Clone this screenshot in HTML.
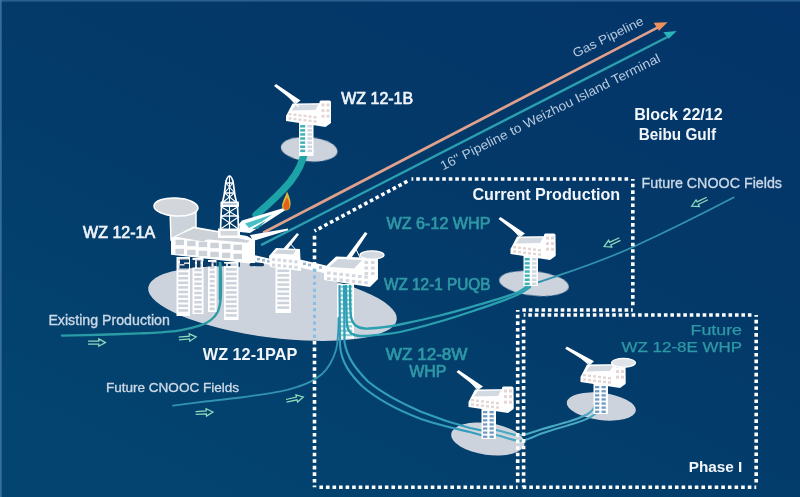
<!DOCTYPE html>
<html>
<head>
<meta charset="utf-8">
<title>WZ 12-1 Field Development</title>
<style>
html,body{margin:0;padding:0;background:#033a69;overflow:hidden;}
svg{display:block;}
text{font-family:"Liberation Sans",sans-serif;}
.w{fill:#eef3f8;}
.wb{fill:#f2f6fa;font-weight:bold;}
.t{fill:#2f98a6;}
.l{fill:#cbd8e6;}
</style>
</head>
<body>
<svg width="800" height="497" viewBox="0 0 800 497">
<defs>
  <linearGradient id="bg" x1="1" y1="0" x2="0.25" y2="1">
    <stop offset="0" stop-color="#043469"/>
    <stop offset="0.5" stop-color="#033a69"/>
    <stop offset="1" stop-color="#034470"/>
  </linearGradient>
  <filter id="soft2" x="-5%" y="-20%" width="110%" height="140%"><feGaussianBlur stdDeviation="0.55"/></filter>
  <filter id="soft" x="-5%" y="-5%" width="110%" height="110%"><feGaussianBlur stdDeviation="0.75"/></filter>
  <path id="arw" d="M-8.7,-1.4 H2 V-3.7 L8.7,0 L2,3.7 V1.4 H-8.7" fill="none" stroke="#8fdcbc" stroke-width="1.25" stroke-linejoin="miter"/>
  <!-- small wellhead platform, origin = top centre of legs (deck bottom) -->
  <g id="whpbody">
    <polygon points="-20.5,-7 -14,-19.5 24,-20 24.5,0 19,4 -20.5,-2" fill="#fff"/>
    <polygon points="-11,-18 12,-18.5 9,-13 -15,-12.5" fill="#d3d9e0"/>
    <rect x="13" y="-22.5" width="11.5" height="22.5" rx="1.5" fill="#fff"/>
    <g fill="#e3d6d3"><rect x="-18" y="-10" width="3" height="2.4"/><rect x="-13" y="-9.4" width="3" height="2.4"/><rect x="-8" y="-8.8" width="3" height="2.4"/><rect x="-3" y="-8.2" width="3" height="2.4"/><rect x="2" y="-7.6" width="3" height="2.4"/><rect x="7" y="-7" width="3" height="2.4"/><rect x="-18" y="-5.7" width="3" height="2.4"/><rect x="-13" y="-5.1" width="3" height="2.4"/><rect x="-8" y="-4.5" width="3" height="2.4"/><rect x="-3" y="-3.9" width="3" height="2.4"/><rect x="2" y="-3.3" width="3" height="2.4"/><rect x="7" y="-2.7" width="3" height="2.4"/><rect x="15" y="-19.5" width="3" height="3"/><rect x="20" y="-19.5" width="3" height="3"/><rect x="15" y="-13.9" width="3" height="3"/><rect x="20" y="-13.9" width="3" height="3"/><rect x="15" y="-8.3" width="3" height="3"/><rect x="20" y="-8.3" width="3" height="3"/></g>
  </g>
  <g id="crane"><polygon points="-32.5,-37 -30.5,-39 -6,-22.5 -10,-19.5" fill="#fff"/><line x1="-21" y1="-30" x2="-8" y2="-16" stroke="#fff" stroke-width="1.2"/></g>
  <g id="crane2"><polygon points="-35.8,-35.2 -34.2,-37.4 -7,-22.8 -10.5,-19.5" fill="#fff"/><line x1="-23" y1="-29" x2="-8" y2="-16" stroke="#fff" stroke-width="1.2"/></g>
  <g id="whpT"><use href="#whpbody"/><rect x="-7.5" y="-1" width="14.5" height="31" fill="#fff"/><g fill="#3fb3b6"><rect x="-6.3" y="2" width="5" height="2.5"/><rect x="-6.3" y="6.1" width="5" height="2.5"/><rect x="-6.3" y="10.2" width="5" height="2.5"/><rect x="-6.3" y="14.3" width="5" height="2.5"/><rect x="-6.3" y="18.4" width="5" height="2.5"/><rect x="-6.3" y="22.5" width="5" height="2.5"/><rect x="-6.3" y="26.6" width="5" height="2.5"/></g><g fill="#cfd8e2"><rect x="1" y="2" width="4.5" height="2.5"/><rect x="1" y="6.1" width="4.5" height="2.5"/><rect x="1" y="10.2" width="4.5" height="2.5"/><rect x="1" y="14.3" width="4.5" height="2.5"/><rect x="1" y="18.4" width="4.5" height="2.5"/><rect x="1" y="22.5" width="4.5" height="2.5"/><rect x="1" y="26.6" width="4.5" height="2.5"/></g></g>
  <g id="whpW"><use href="#whpbody"/><rect x="-7.5" y="-1" width="14.5" height="31" fill="#fff"/><g fill="#6f9cc4"><rect x="-6" y="2" width="4.3" height="2.3"/><rect x="0.5" y="2" width="4.3" height="2.3"/><rect x="-6" y="6.1" width="4.3" height="2.3"/><rect x="0.5" y="6.1" width="4.3" height="2.3"/><rect x="-6" y="10.2" width="4.3" height="2.3"/><rect x="0.5" y="10.2" width="4.3" height="2.3"/><rect x="-6" y="14.3" width="4.3" height="2.3"/><rect x="0.5" y="14.3" width="4.3" height="2.3"/><rect x="-6" y="18.4" width="4.3" height="2.3"/><rect x="0.5" y="18.4" width="4.3" height="2.3"/><rect x="-6" y="22.5" width="4.3" height="2.3"/><rect x="0.5" y="22.5" width="4.3" height="2.3"/><rect x="-6" y="26.6" width="4.3" height="2.3"/><rect x="0.5" y="26.6" width="4.3" height="2.3"/></g></g>
</defs>

<rect width="800" height="497" fill="url(#bg)"/>
<rect x="0" y="0" width="800" height="1.6" fill="#2f6694" opacity="0.85"/>
<rect x="0" y="0" width="1.7" height="497" fill="#4276a3" opacity="0.85"/>

<g filter="url(#soft)">
<!-- seabed ellipses -->
<g fill="#cdd3dc">
  <ellipse cx="272.5" cy="303.6" rx="125.3" ry="33.9" transform="rotate(7.4 272.5 303.6)"/>
  <polygon points="240,262 300,264 330,270 340,290 240,285"/>
  <ellipse cx="309.2" cy="149.3" rx="28.4" ry="12" transform="rotate(5 309.2 149.3)"/>
  <ellipse cx="534" cy="283.4" rx="35" ry="12.2" transform="rotate(6 534 283.4)"/>
  <ellipse cx="487.8" cy="439" rx="37" ry="15.9" transform="rotate(8 487.8 439)"/>
  <ellipse cx="601.3" cy="406.5" rx="34.8" ry="13.6" transform="rotate(7 601.3 406.5)"/>
</g>

<!-- PUQB legs (under the pipelines) -->
<g opacity="1"><rect x="337" y="284" width="17" height="54.5" fill="#fff"/><g fill="#8fcfd0"><rect x="338.8" y="285.5" width="13.4" height="2.4"/><rect x="338.8" y="289.9" width="13.4" height="2.4"/><rect x="338.8" y="294.3" width="13.4" height="2.4"/><rect x="338.8" y="298.7" width="13.4" height="2.4"/><rect x="338.8" y="303.1" width="13.4" height="2.4"/><rect x="338.8" y="307.5" width="13.4" height="2.4"/><rect x="338.8" y="311.9" width="13.4" height="2.4"/><rect x="338.8" y="316.3" width="13.4" height="2.4"/><rect x="338.8" y="320.7" width="13.4" height="2.4"/><rect x="338.8" y="325.1" width="13.4" height="2.4"/><rect x="338.8" y="329.5" width="13.4" height="2.4"/><rect x="338.8" y="333.9" width="13.4" height="2.4"/></g></g>
<!-- pipelines -->
<g fill="none" stroke-linecap="round">
  <line x1="264" y1="232.3" x2="657" y2="27.9" stroke="#dfa08c" stroke-width="2.7"/>
  <line x1="262" y1="244.6" x2="666.5" y2="37.5" stroke="#2a9fb0" stroke-width="2.4"/>
  <polygon points="667.6,22.3 653.6,22.8 659,30.8" fill="#f0905a" stroke="none"/>
  <polygon points="676.8,31 663.3,32.2 668.6,38.8" fill="#2ab5b8" stroke="none"/>
  <path d="M305,150 C303,162 298,172 290,182 C280,194 270,203 256,215" stroke="#1fa3a8" stroke-width="7.2"/>
  <path d="M62,335.6 C68.33,335.47 87,335.17 100,334.8 C113,334.43 130,333.8 140,333.4 C150,333 153.33,332.9 160,332.4 C166.67,331.9 173.27,331.57 180,330.4 C186.73,329.23 195.33,327.07 200.4,325.4 C205.47,323.73 207.55,322.58 210.4,320.4 C213.25,318.22 215.82,315.67 217.5,312.3 C219.18,308.93 219.92,305.58 220.5,300.2 C221.08,294.82 221,286.03 221,280 C221,273.97 220.58,266.67 220.5,264" stroke="#2a9ca6" stroke-width="2.4"/>
  <path d="M173,405.6 C178.33,404.92 193.75,402.85 205,401.5 C216.25,400.15 227.88,399.18 240.5,397.5 C253.12,395.82 270.78,393.32 280.7,391.4 C290.62,389.48 294.95,387.67 300,386 C305.05,384.33 307.33,383.4 311,381.4 C314.67,379.4 318.83,376.9 322,374 C325.17,371.1 327.67,368 330,364 C332.33,360 334.67,354.83 336,350 C337.33,345.17 337.58,340.33 338,335 C338.42,329.67 338.42,320.83 338.5,318" stroke="#3092b0" stroke-width="1.9"/>
  <path d="M339.5,286 L340,345 C341,362 350,374 362,386 C378,400 400,411 421,419 C440,425.5 455,428.5 470,432 L486,436.5" stroke="#329dbc" stroke-width="2.2"/>
  <path d="M344,286 L344.5,342 C347,358 356,369 368,381.5 C382,393 402,403.5 421,411.7 C438,418.5 453,423.5 470,428 L487,431.5" stroke="#329dbc" stroke-width="2.2"/>
  <path d="M350,286 C350.07,289.72 350.17,302.9 350.4,308.3 C350.63,313.7 350.55,315.53 351.4,318.4 C352.25,321.27 353.32,323.82 355.5,325.5 C357.68,327.18 360.32,328.17 364.5,328.5 C368.68,328.83 374.68,328.17 380.6,327.5 C386.52,326.83 390.1,326.5 400,324.5 C409.9,322.5 427.42,318.63 440,315.5 C452.58,312.37 464.55,308.85 475.5,305.7 C486.45,302.55 498.28,299 505.7,296.6 C513.12,294.2 516.12,293.32 520,291.3 C523.88,289.28 527.5,285.63 529,284.5" stroke="#2b9fb0" stroke-width="2.3"/>
  <path d="M346,286 C346.07,290.07 346.17,303.65 346.4,310.4 C346.63,317.15 346.57,322.65 347.4,326.5 C348.23,330.35 349.22,331.92 351.4,333.5 C353.58,335.08 355.63,335.83 360.5,336 C365.37,336.17 374.02,335.17 380.6,334.5 C387.18,333.83 390.1,334.17 400,332 C409.9,329.83 427.42,325.13 440,321.5 C452.58,317.87 464.55,313.85 475.5,310.2 C486.45,306.55 498.28,302.37 505.7,299.6 C513.12,296.83 515.95,295.7 520,293.6 C524.05,291.5 528.33,288.1 530,287" stroke="#2b9fb0" stroke-width="2.3"/>
  <path d="M533,284 C570,272 600,262 633,247 C670,230 700,215 733.5,197.5" stroke="#3092b0" stroke-width="1.9"/>
  <path d="M488,431 L496,430 C508,432 512,436 521,435 C530,434 536,431 540,429.8 C550,427 558,424.5 567.5,422 C576,419.5 582,417 587,414.5 C592,411.5 595,409 595.5,400" stroke="#48a8c2" stroke-width="2.1"/>
  <path d="M488,436 L496,435 C508,437.5 512,441.5 521,440.8 C530,439.5 536,435.5 540,434 C550,430.5 558,428 567.5,425.6 C576,423 584,420.5 590,417.4 C596,414 599.5,411 600.5,400" stroke="#48a8c2" stroke-width="2.1"/>
</g>
<!-- flow arrows -->
<g>
  <use href="#arw" transform="translate(96.8,342.6)"/>
  <use href="#arw" transform="translate(187.5,337.7) rotate(-5)"/>
  <use href="#arw" transform="translate(204.3,412.5) rotate(-3)"/>
  <use href="#arw" transform="translate(294.8,398.9) rotate(-13)"/>
  <use href="#arw" transform="translate(699.5,202.3) rotate(153.7)"/>
  <use href="#arw" transform="translate(612,242.8) rotate(154.5)"/>
</g>

<!-- platforms -->
<g id="platforms">
  <rect x="299" y="150" width="14.5" height="6" fill="#fff"/><use href="#whpT" x="306.5" y="123"/>
  <use href="#crane" x="306.5" y="123"/><use href="#crane" x="531" y="256"/><use href="#crane" x="489" y="409"/><use href="#crane2" x="601" y="384"/>
  <use href="#whpT" x="531" y="256"/>
  <use href="#whpW" x="489" y="409"/>
  <g>
    <use href="#whpW" x="601" y="384"/>
    <ellipse cx="623.5" cy="362.8" rx="12" ry="4.4" fill="#dfe4ea" stroke="#fff" stroke-width="1.2"/>
  </g>

  <!-- WZ 12-1A complex : legs -->
  <g opacity="1"><rect x="176.5" y="257" width="13.5" height="59" fill="#fff"/><g fill="#cdd3dc"><rect x="178.3" y="258.5" width="9.9" height="2.6"/><rect x="178.3" y="263.1" width="9.9" height="2.6"/><rect x="178.3" y="267.7" width="9.9" height="2.6"/><rect x="178.3" y="272.3" width="9.9" height="2.6"/><rect x="178.3" y="276.9" width="9.9" height="2.6"/><rect x="178.3" y="281.5" width="9.9" height="2.6"/><rect x="178.3" y="286.1" width="9.9" height="2.6"/><rect x="178.3" y="290.7" width="9.9" height="2.6"/><rect x="178.3" y="295.3" width="9.9" height="2.6"/><rect x="178.3" y="299.9" width="9.9" height="2.6"/><rect x="178.3" y="304.5" width="9.9" height="2.6"/><rect x="178.3" y="309.1" width="9.9" height="2.6"/></g></g><g opacity="1"><rect x="192.5" y="258" width="11" height="56" fill="#fff"/><g fill="#cdd3dc"><rect x="194.3" y="259.5" width="7.4" height="2.6"/><rect x="194.3" y="264.1" width="7.4" height="2.6"/><rect x="194.3" y="268.7" width="7.4" height="2.6"/><rect x="194.3" y="273.3" width="7.4" height="2.6"/><rect x="194.3" y="277.9" width="7.4" height="2.6"/><rect x="194.3" y="282.5" width="7.4" height="2.6"/><rect x="194.3" y="287.1" width="7.4" height="2.6"/><rect x="194.3" y="291.7" width="7.4" height="2.6"/><rect x="194.3" y="296.3" width="7.4" height="2.6"/><rect x="194.3" y="300.9" width="7.4" height="2.6"/><rect x="194.3" y="305.5" width="7.4" height="2.6"/><rect x="194.3" y="310.1" width="7.4" height="2.6"/></g></g><g opacity="1"><rect x="208" y="260" width="8.5" height="52" fill="#fff"/><g fill="#cdd3dc"><rect x="209.8" y="261.5" width="4.9" height="2.6"/><rect x="209.8" y="266.1" width="4.9" height="2.6"/><rect x="209.8" y="270.7" width="4.9" height="2.6"/><rect x="209.8" y="275.3" width="4.9" height="2.6"/><rect x="209.8" y="279.9" width="4.9" height="2.6"/><rect x="209.8" y="284.5" width="4.9" height="2.6"/><rect x="209.8" y="289.1" width="4.9" height="2.6"/><rect x="209.8" y="293.7" width="4.9" height="2.6"/><rect x="209.8" y="298.3" width="4.9" height="2.6"/><rect x="209.8" y="302.9" width="4.9" height="2.6"/><rect x="209.8" y="307.5" width="4.9" height="2.6"/></g></g><g opacity="1"><rect x="224" y="262" width="14.5" height="58" fill="#fff"/><g fill="#cdd3dc"><rect x="225.8" y="263.5" width="10.9" height="2.6"/><rect x="225.8" y="268.1" width="10.9" height="2.6"/><rect x="225.8" y="272.7" width="10.9" height="2.6"/><rect x="225.8" y="277.3" width="10.9" height="2.6"/><rect x="225.8" y="281.9" width="10.9" height="2.6"/><rect x="225.8" y="286.5" width="10.9" height="2.6"/><rect x="225.8" y="291.1" width="10.9" height="2.6"/><rect x="225.8" y="295.7" width="10.9" height="2.6"/><rect x="225.8" y="300.3" width="10.9" height="2.6"/><rect x="225.8" y="304.9" width="10.9" height="2.6"/><rect x="225.8" y="309.5" width="10.9" height="2.6"/><rect x="225.8" y="314.1" width="10.9" height="2.6"/></g></g><g opacity="1"><rect x="275.5" y="268" width="15.5" height="45" fill="#fff"/><g fill="#cdd3dc"><rect x="277.3" y="269.5" width="11.9" height="2.6"/><rect x="277.3" y="274.1" width="11.9" height="2.6"/><rect x="277.3" y="278.7" width="11.9" height="2.6"/><rect x="277.3" y="283.3" width="11.9" height="2.6"/><rect x="277.3" y="287.9" width="11.9" height="2.6"/><rect x="277.3" y="292.5" width="11.9" height="2.6"/><rect x="277.3" y="297.1" width="11.9" height="2.6"/><rect x="277.3" y="301.7" width="11.9" height="2.6"/><rect x="277.3" y="306.3" width="11.9" height="2.6"/></g></g>
  <!-- existing production riser over legs -->
  <path d="M220,262 V300" stroke="#2a9ca6" stroke-width="2.6" fill="none"/>
  <!-- under-deck dark clutter -->
  <g fill="#0d3b66">
    <path d="M180,259.500 h9 v3 h-5 v1.500 h5 v4.500 h-9.500 v-3 h5 v-1.500 h-4.500 z"/>
    <rect x="192" y="260" width="3" height="7.500"/><rect x="197" y="260.500" width="3.500" height="7"/><rect x="203" y="261" width="3" height="6"/>
    <rect x="208" y="262" width="3.500" height="4.500"/><rect x="213.500" y="262.500" width="3" height="3.500"/><rect x="223" y="263.500" width="3" height="2.500"/><rect x="228" y="264" width="2.500" height="2"/>
  </g>
  <!-- helideck tower -->
  <polygon points="170,208 196,208 196,240 171,240" fill="#cdd3da" stroke="#fff" stroke-width="1.5"/>
  <ellipse cx="176" cy="207" rx="22" ry="9" fill="#d3d6db" stroke="#fff" stroke-width="1.6" transform="rotate(3 176 207)"/>
  <!-- derrick -->
  <g stroke="#fff" fill="none" stroke-width="1.7">
    <path d="M220.500,229 L221.500,206 L224,196 L226,181 Q229.500,171 233,181 L235,196 L237.500,206 L238.500,229"/>
    <path d="M226,183 H233 M224.500,193 H234.500 M221,216 H238.500"/>
    <path d="M226,183 L234.500,193 L222,203 M233,183 L224.500,193 L237,203 M221.500,207 L238.500,217 L220.500,229 M237.500,207 L221,217 L238.500,229" stroke-width="1.1"/>
    <path d="M229.500,176 V229" stroke-width="1.1"/>
  </g>
  <rect x="220.500" y="201.500" width="18.500" height="5.500" rx="1" fill="#fff"/>
  <rect x="223" y="203" width="13.500" height="2" fill="#b9c6d6"/>
  <!-- flare booms -->
  <polygon points="239,224 242,220.500 284.500,207.800 285.500,210 250,233 240,232" fill="#fff"/>
  <polygon points="245,223.500 272,214.500 262,221.500 249,228" fill="#49c0c4"/>
  <polygon points="252,229 266,220.500 258,229" fill="#2aa5ad"/>
  <polygon points="250,235 288,228.500 288,230.200 253,241" fill="#fff"/>
  <!-- flame -->
  <path d="M287,191.500 C290.300,198 291.600,203.500 289.800,208 C288.300,211.300 283.600,211.300 282.300,207.800 C281,204 284.800,198 287,191.500 Z" fill="#d9b93a"/>
  <path d="M287,197 C289.300,201.500 290.200,205.500 289,208.300 C287.900,210.500 284.500,210.500 283.600,208 C282.700,205 285.300,201 287,197 Z" fill="#e4601f"/>
  <!-- main deck 12-1A -->
  <polygon points="171,238 171,254.800 249.500,263.500 255,268 255,240.500 247,236 193.500,226.500" fill="#fff"/>
  <polygon points="176,236.700 194,228.500 250,240.800 247,242.700" fill="#cdd2d9"/>
  <polygon points="176,236.700 194,228.500 221,233 203,241.500" fill="#cdd2d9"/>
  <rect x="218" y="228.500" width="22" height="9.500" fill="#fff"/>
  <rect x="220.500" y="231" width="17" height="4.500" fill="#d3d8df"/>
  <g fill="#cdd2d9"><rect x="175.5" y="239.8" width="8.5" height="5.4"/><rect x="187.1" y="240.79" width="8.5" height="5.4"/><rect x="198.7" y="241.77" width="8.5" height="5.4"/><rect x="210.3" y="242.76" width="8.5" height="5.4"/><rect x="221.9" y="243.74" width="8.5" height="5.4"/><rect x="233.5" y="244.73" width="8.5" height="5.4"/><rect x="175.5" y="248.8" width="8.5" height="5.4"/><rect x="187.1" y="249.79" width="8.5" height="5.4"/><rect x="198.7" y="250.77" width="8.5" height="5.4"/><rect x="210.3" y="251.76" width="8.5" height="5.4"/><rect x="221.9" y="252.74" width="8.5" height="5.4"/><rect x="233.5" y="253.73" width="8.5" height="5.4"/></g>
  <!-- bridge A - middle -->
  <polygon points="254,255 271,259 271,265 254,261.500" fill="#fff"/>
  <g fill="#9fb6cf"><rect x="257" y="258" width="3" height="2.500"/><rect x="262" y="259" width="3" height="2.500"/><rect x="267" y="260" width="3" height="2.500"/></g>
  <rect x="249.500" y="263" width="14.500" height="3.200" rx="1.500" fill="#0d3b66"/>
  <!-- middle platform -->
  <polygon points="283,249 297,233 299,234.500 287,250" fill="#fff"/>
  <line x1="289" y1="242" x2="296" y2="250" stroke="#fff" stroke-width="1"/>
  <polygon points="269,256 276,248 300,249 301,271 270,267" fill="#fff"/>
  <polygon points="274,253.500 278,249.500 296,250.500 293,254.500" fill="#cfd5dc"/>
  <g fill="#d3d8df"><rect x="272" y="258" width="3.2" height="3"/><rect x="277.6" y="258.56" width="3.2" height="3"/><rect x="283.2" y="259.12" width="3.2" height="3"/><rect x="288.8" y="259.68" width="3.2" height="3"/><rect x="294.4" y="260.24" width="3.2" height="3"/><rect x="272" y="263.5" width="3.2" height="3"/><rect x="277.6" y="264.06" width="3.2" height="3"/><rect x="283.2" y="264.62" width="3.2" height="3"/><rect x="288.8" y="265.18" width="3.2" height="3"/><rect x="294.4" y="265.74" width="3.2" height="3"/></g>
  <!-- bridge middle - PUQB -->
  <polygon points="300,259.500 326,265.500 326,273.500 300,267.500" fill="#fff"/>
  <g fill="#9fb6cf"><rect x="303" y="262.500" width="3" height="2.500"/><rect x="308" y="263.700" width="3" height="2.500"/><rect x="319" y="266.200" width="3" height="2.500"/></g>
  <!-- PUQB -->
  <polygon points="345,259 365,232 367.500,233.500 350,260" fill="#fff"/>
  <line x1="355" y1="247" x2="362" y2="262" stroke="#fff" stroke-width="1"/>
  <polygon points="324,268 336,256.500 378,258 378,279 370,287 324,280" fill="#fff"/>
  <polygon points="329,267 338,259 362,260 354,268.500" fill="#cfd5dc"/>
  <rect x="362" y="257" width="16" height="22" fill="#fff"/>
  <ellipse cx="372" cy="255" rx="12" ry="4.2" fill="#d3d9e0" stroke="#fff" stroke-width="1.3"/>
  <g fill="#d3d8df"><rect x="327" y="271.5" width="3.6" height="3"/><rect x="333.2" y="272.18" width="3.6" height="3"/><rect x="339.4" y="272.86" width="3.6" height="3"/><rect x="345.6" y="273.55" width="3.6" height="3"/><rect x="351.8" y="274.23" width="3.6" height="3"/><rect x="358" y="274.91" width="3.6" height="3"/><rect x="364.2" y="275.59" width="3.6" height="3"/><rect x="327" y="277.1" width="3.6" height="3"/><rect x="333.2" y="277.78" width="3.6" height="3"/><rect x="339.4" y="278.46" width="3.6" height="3"/><rect x="345.6" y="279.15" width="3.6" height="3"/><rect x="351.8" y="279.83" width="3.6" height="3"/><rect x="358" y="280.51" width="3.6" height="3"/><rect x="364.2" y="281.19" width="3.6" height="3"/><rect x="364.5" y="261" width="3.6" height="3"/><rect x="371" y="261" width="3.6" height="3"/><rect x="364.5" y="266.5" width="3.6" height="3"/><rect x="371" y="266.5" width="3.6" height="3"/><rect x="364.5" y="272" width="3.6" height="3"/><rect x="371" y="272" width="3.6" height="3"/></g>
</g>

<!-- dotted boxes -->
<g fill="none" stroke="#ffffff" stroke-width="3.6">
  <path d="M314.5,487.3 L314.5,234.29" stroke-dasharray="3.6 2.97" stroke-dashoffset="1.8"/><path d="M314.5,231 L408.65,180.53" stroke-dasharray="3.6 2.87" stroke-dashoffset="1.8"/><path d="M411.5,179 L629.55,179" stroke-dasharray="3.6 2.91" stroke-dashoffset="1.8"/><path d="M632.8,179 L632.8,306.73" stroke-dasharray="3.6 2.95" stroke-dashoffset="1.8"/><path d="M632.8,310 L520.9,310" stroke-dasharray="3.6 2.79" stroke-dashoffset="1.8"/><path d="M517.7,310 L517.7,484.02" stroke-dasharray="3.6 2.97" stroke-dashoffset="1.8"/><path d="M517.7,487.3 L317.78,487.3" stroke-dasharray="3.6 2.95" stroke-dashoffset="1.8"/><path d="M523.6,487.3 L523.6,318.31" stroke-dasharray="3.6 3.03" stroke-dashoffset="1.8"/><path d="M523.6,315 L752.97,315" stroke-dasharray="3.6 2.86" stroke-dashoffset="1.8"/><path d="M756.2,315 L756.2,483.99" stroke-dasharray="3.6 3.03" stroke-dashoffset="1.8"/><path d="M756.2,487.3 L521.01,487.3" stroke-dasharray="3.6 3.02" stroke-dashoffset="1.8"/>
</g>
<g fill="#8dbde0"><rect x="312.7" y="334.35" width="3.6" height="3.6"/><rect x="312.7" y="327.78" width="3.6" height="3.6"/><rect x="312.7" y="321.21" width="3.6" height="3.6"/><rect x="312.7" y="314.63" width="3.6" height="3.6"/><rect x="312.7" y="308.06" width="3.6" height="3.6"/><rect x="312.7" y="301.49" width="3.6" height="3.6"/><rect x="312.7" y="294.92" width="3.6" height="3.6"/><rect x="312.7" y="288.35" width="3.6" height="3.6"/><rect x="312.7" y="281.77" width="3.6" height="3.6"/><rect x="312.7" y="275.2" width="3.6" height="3.6"/><rect x="312.7" y="268.63" width="3.6" height="3.6"/></g>
</g>

<!-- text -->
<g font-size="16" filter="url(#soft2)">
  <g class="w" stroke="#eef3f8" stroke-width="0.7">
    <text x="341.3" y="104" font-size="16" textLength="71.8" lengthAdjust="spacingAndGlyphs">WZ 12-1B</text>
    <text x="83.1" y="238.1" font-size="16" textLength="72" lengthAdjust="spacingAndGlyphs">WZ 12-1A</text>
  </g>
  <g class="wb">
    <text x="202.8" y="360.2" font-size="16.3" textLength="94.5" lengthAdjust="spacingAndGlyphs">WZ 12-1PAP</text>
    <text x="472.4" y="200" font-size="16.3" textLength="147.8" lengthAdjust="spacingAndGlyphs">Current Production</text>
    <text x="634.2" y="119.9" font-size="16.8" textLength="88.5" lengthAdjust="spacingAndGlyphs">Block 22/12</text>
    <text x="638.7" y="140.3" font-size="16.8" textLength="77.3" lengthAdjust="spacingAndGlyphs">Beibu Gulf</text>
    <text x="688.7" y="471.5" font-size="15.3" textLength="53.6" lengthAdjust="spacingAndGlyphs">Phase I</text>
  </g>
  <g class="t" stroke="#2f98a6" stroke-width="0.7">
    <text x="386.5" y="229.3" textLength="104" lengthAdjust="spacingAndGlyphs">WZ 6-12 WHP</text>
    <text x="384" y="290.2" textLength="106.5" lengthAdjust="spacingAndGlyphs">WZ 12-1 PUQB</text>
    <text x="385.8" y="359.8" textLength="81.7" lengthAdjust="spacingAndGlyphs">WZ 12-8W</text>
    <text x="409.3" y="377" textLength="37.2" lengthAdjust="spacingAndGlyphs">WHP</text>
    <text x="690.5" y="334.5" font-size="14.5" textLength="51.5" lengthAdjust="spacingAndGlyphs" stroke-width="0.25">Future</text>
    <text x="621.5" y="352" font-size="14.5" textLength="120.5" lengthAdjust="spacingAndGlyphs" stroke-width="0.25">WZ 12-8E WHP</text>
  </g>
  <g class="l" font-size="14" stroke="#cbd8e6" stroke-width="0.35">
    <text x="48.4" y="325.2" textLength="121.5" lengthAdjust="spacingAndGlyphs">Existing Production</text>
    <text x="106" y="392.3" font-size="13.5" textLength="133" lengthAdjust="spacingAndGlyphs">Future CNOOC Fields</text>
    <text x="641.6" y="187.6" textLength="140.4" lengthAdjust="spacingAndGlyphs">Future CNOOC Fields</text>
    <text fill="#b7c9dc" stroke="none" font-size="12.6" transform="translate(575.3,57.8) rotate(-26)" textLength="77" lengthAdjust="spacingAndGlyphs">Gas Pipeline</text>
    <text fill="#b7c9dc" stroke="none" font-size="13" transform="translate(443,170.5) rotate(-26.6)" textLength="244" lengthAdjust="spacingAndGlyphs">16" Pipeline to Weizhou Island Terminal</text>
  </g>
</g>
</svg>
</body>
</html>
